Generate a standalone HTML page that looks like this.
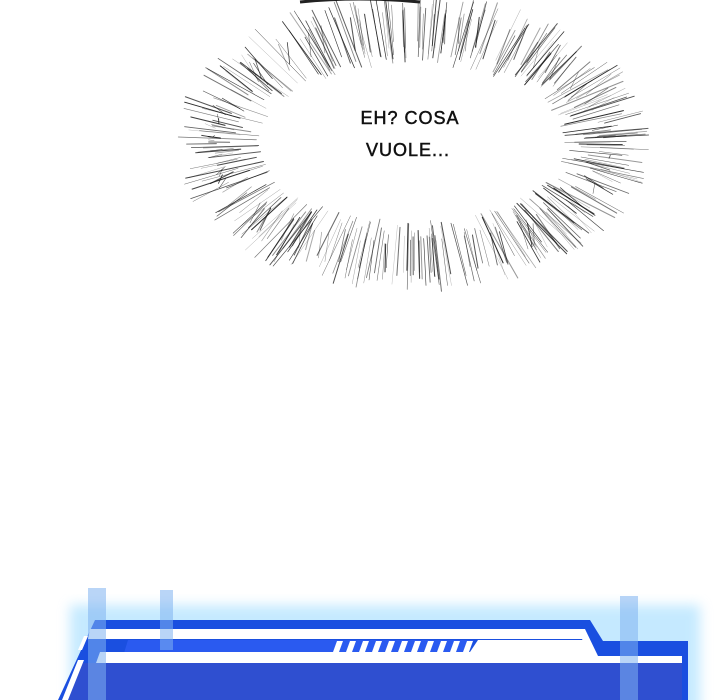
<!DOCTYPE html>
<html><head><meta charset="utf-8"><style>
html,body{margin:0;padding:0;background:#fff;width:720px;height:700px;overflow:hidden}
</style></head><body>
<svg id="s" width="720" height="700" xmlns="http://www.w3.org/2000/svg">
<defs>
<filter id="b"><feGaussianBlur stdDeviation="6"/></filter>
</defs>
<path d="M300,2 Q360,-4 420,2" stroke="#222" stroke-width="3" fill="none"/>
<g id="rays" stroke="#111" stroke-linecap="round"></g>
<text x="410" y="124" font-family="'Liberation Sans',sans-serif" font-size="18" text-anchor="middle" fill="#111" letter-spacing="1" stroke="#111" stroke-width="0.5">EH? COSA</text>
<text x="408" y="156" font-family="'Liberation Sans',sans-serif" font-size="18" text-anchor="middle" fill="#111" letter-spacing="1" stroke="#111" stroke-width="0.5">VUOLE...</text>
<rect x="70" y="605" width="630" height="110" fill="#9fdcff" opacity="0.6" filter="url(#b)"/>
<path d="M95,620 L590,620 L603,641 L688,641 L688,700 L58,700 Z" fill="#1a4fe0"/>
<path d="M90,629 L585,629 L598,656 L682,656 L682,663 L594,663 L582,639 L88,639 Z" fill="#fff"/>
<path d="M128,640 L474,640 L466,653 L124,653 Z" fill="#2a5af0"/>
<path d="M100,652 L470,652 L478,640 L586,640 L598,663 L96,663 Z" fill="#fff"/>
<path d="M80,663 L682,663 L682,700 L62,700 Z" fill="#2f4fd0"/>
<path d="M88,636 L82,650 L78,650 L84,636 Z M84,660 L68,700 L62,700 L78,660Z" fill="#fff"/>
<g fill="#fff" id="dash"></g>
<rect x="88" y="588" width="18" height="112" fill="#7fb2f0" opacity="0.55"/>
<rect x="160" y="590" width="13" height="60" fill="#7fb2f0" opacity="0.55"/>
<rect x="620" y="596" width="18" height="104" fill="#7fb2f0" opacity="0.55"/>
</svg>
<script>
var g=document.getElementById('rays'),ns='http://www.w3.org/2000/svg';
var cx=412,cy=143,seed=7;function r(){seed=(seed*9301+49297)%233280;return seed/233280;}
for(var i=0;i<420;i++){var a=r()*Math.PI*2;var c=Math.cos(a),s=Math.sin(a);
var ri=0.95+r()*0.3,ro=0.85+r()*0.18;
var l=document.createElementNS(ns,'line');
l.setAttribute('x1',cx+c*160*ri);l.setAttribute('y1',cy+s*82*ri);
l.setAttribute('x2',cx+c*232*ro);l.setAttribute('y2',cy+s*148*ro);
l.setAttribute('stroke-width',(0.3+r()*0.8).toFixed(2));l.setAttribute('opacity',(0.35+r()*0.55).toFixed(2));
g.appendChild(l);}
var d=document.getElementById('dash');
for(var k=0;k<11;k++){var x=333+k*13;var p=document.createElementNS(ns,'path');
p.setAttribute('d','M'+(x+4)+',641 L'+(x+10)+',641 L'+(x+6)+',652 L'+x+',652Z');d.appendChild(p);}
</script>
</body></html>
